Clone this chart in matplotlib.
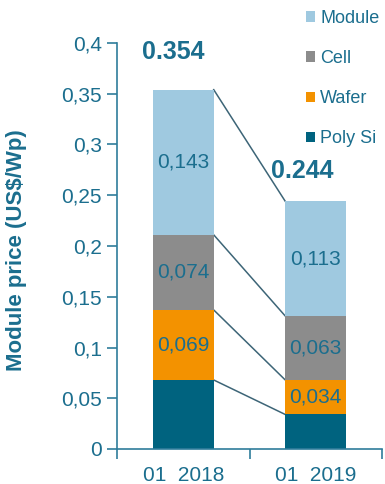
import matplotlib
matplotlib.use('Agg')
import matplotlib.pyplot as plt
from matplotlib.patches import Patch

# 组件价格拆分数据 (US$/Wp)
periods = ['01  2018', '01  2019']
components = ['Poly Si', 'Wafer', 'Cell', 'Module']
poly_si = [0.068, 0.034]
wafer = [0.069, 0.034]
cell = [0.074, 0.063]
module = [0.143, 0.113]
totals = [0.354, 0.244]

colors = {'Poly Si': '#00637f', 'Wafer': '#f39200', 'Cell': '#8c8c8c', 'Module': '#9fc9e0'}
teal = '#1b6e8e'
axis_color = '#2f7d9b'

plt.rcParams['font.family'] = ['Liberation Sans', 'DejaVu Sans']

fig = plt.figure(figsize=(3.85, 4.84), dpi=100)
ax = fig.add_axes([117 / 385, 1 - 449 / 484, 265 / 385, 406 / 484])

series = {'Poly Si': poly_si, 'Wafer': wafer, 'Cell': cell, 'Module': module}
x = list(range(len(periods)))
width = 0.46
bottoms = [0.0] * len(periods)
tops = {}
for name in components:
    vals = series[name]
    ax.bar(x, vals, width, bottom=bottoms, color=colors[name], label=name, zorder=2)
    # Poly Si 段不标数值
    if name != 'Poly Si':
        for i, v in enumerate(vals):
            ax.text(x[i], bottoms[i] + v / 2, ('%.3f' % v).replace('.', ','),
                    ha='center', va='center', fontsize=15, color=teal, zorder=3)
    bottoms = [b + v for b, v in zip(bottoms, vals)]
    tops[name] = list(bottoms)

# 各分段顶部之间的连线
for name in components:
    ax.plot([x[0] + width / 2, x[1] - width / 2], [tops[name][0], tops[name][1]],
            color='#3d6577', lw=1.1, zorder=1)

# 总价标注
offsets = [(-7, 27), (-10, 22)]
for i, t in enumerate(totals):
    ax.annotate('%.3f' % t, (x[i], t), xytext=offsets[i], textcoords='offset points',
                ha='center', va='center', fontsize=18, fontweight='bold', color=teal)

ax.set_xlim(-0.5, 1.5)
ax.set_ylim(0, 0.4)
ax.set_yticks([i * 0.05 for i in range(9)])
ax.set_yticklabels(['0', '0,05', '0,1', '0,15', '0,2', '0,25', '0,3', '0,35', '0,4'])
ax.set_xticks(x)
ax.set_xticklabels(periods)
ax.set_xticks([-0.5, 0.5, 1.5], minor=True)
ax.tick_params(axis='x', which='major', length=0, pad=12, labelsize=15, labelcolor=teal)
ax.tick_params(axis='x', which='minor', length=7, width=1.2, color=axis_color)
ax.tick_params(axis='y', length=7, width=1.2, color=axis_color, labelsize=15,
               labelcolor=teal, pad=4)

for s in ['top', 'right']:
    ax.spines[s].set_visible(False)
for s in ['left', 'bottom']:
    ax.spines[s].set_color(axis_color)
    ax.spines[s].set_linewidth(1.2)

ax.set_ylabel('Module price (US$/Wp)', fontsize=16, fontweight='bold', color=teal)
ax.yaxis.set_label_coords(-0.34, 0.49)

handles = [Patch(facecolor=colors[n], edgecolor='none') for n in components[::-1]]
fig.legend(handles, components[::-1], loc='upper left', bbox_to_anchor=(296 / 385, 1.0),
           frameon=False, fontsize=13, labelcolor=teal, handlelength=0.5,
           handleheight=0.5, handletextpad=0.3, labelspacing=1.28, borderaxespad=0.15)

fig.savefig('out.png', dpi=100)
